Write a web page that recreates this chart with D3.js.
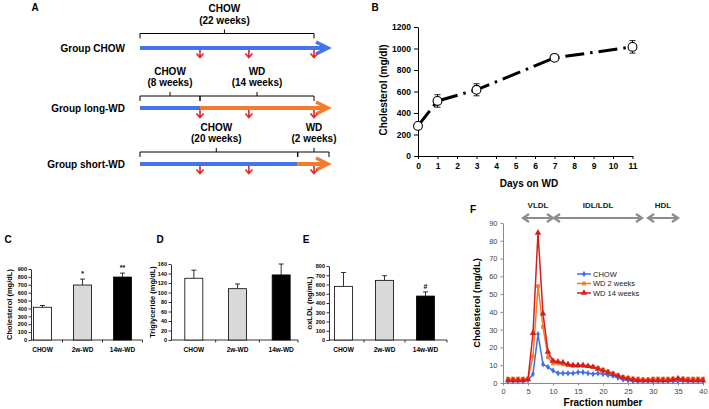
<!DOCTYPE html>
<html><head><meta charset="utf-8">
<script src="https://cdn.jsdelivr.net/npm/d3@7"></script>
<style>
body{margin:0;background:#fff}
svg{display:block}
text{font-family:"Liberation Sans",Arial,sans-serif}
</style>
</head><body>
<svg id="chart" width="709" height="409"></svg>
<script>
// ================= DATA =================
// Panel A: study design (weeks)
const groupNames = ["Group CHOW", "Group long-WD", "Group short-WD"];
const dietSegments = [
  [{diet: "CHOW", from: 0, to: 24}],
  [{diet: "CHOW", from: 0, to: 8}, {diet: "WD", from: 8, to: 24}],
  [{diet: "CHOW", from: 0, to: 20}, {diet: "WD", from: 20, to: 24}]
];
const bracketSegments = [
  [{l1: "CHOW", l2: "(22 weeks)", from: 0, to: 22}],
  [{l1: "CHOW", l2: "(8 weeks)", from: 0, to: 8}, {l1: "WD", l2: "(14 weeks)", from: 8, to: 22}],
  [{l1: "CHOW", l2: "(20 weeks)", from: 0, to: 20}, {l1: "WD", l2: "(2 weeks)", from: 20, to: 24}]
];
const sampleWeeks = [8, 14, 22];

// Panel B: cholesterol vs days on WD
const daysB = [0, 1, 3, 7, 11];
const cholB = [280, 512, 616, 913, 1015];
const cholBErr = [20, 58, 56, 15, 58];
const bYTicks = [0, 200, 400, 600, 800, 1000, 1200];
const bXTicks = [0, 1, 2, 3, 4, 5, 6, 7, 8, 9, 10, 11];

// Panels C, D, E: bars
const barCats = ["CHOW", "2w-WD", "14w-WD"];
const cholC = [415, 697, 798];
const cholCErr = [22, 75, 50];
const sigC = ["", "*", "**"];
const cTicks = [0, 100, 200, 300, 400, 500, 600, 700, 800, 900];
const tgD = [130, 108, 137];
const tgDErr = [17, 10, 23];
const sigD = ["", "", ""];
const dTicks = [0, 20, 40, 60, 80, 100, 120, 140, 160];
const oxE = [580, 645, 475];
const oxEErr = [150, 50, 45];
const sigE = ["", "", "#"];
const eTicks = [0, 100, 200, 300, 400, 500, 600, 700, 800];

// Panel F: FPLC profile
const fractions = [1,2,3,4,5,6,7,8,9,10,11,12,13,14,15,16,17,18,19,20,21,22,23,24,25,26,27,28,29,30,31,32,33,34,35,36,37,38,39,40];
const fChow = [1,1,1,1,1.5,5,27.5,10.5,9,7,5.5,5.5,5.5,5.5,6,6,5.5,5,5.5,5,4.5,4,3,2,1.5,1,1,1,1,1,1,1,1,1,1,1,1,1,1,1];
const fWd2 = [2.5,2.5,2.5,2.5,2.5,15,54.5,31.5,14.5,11,11,10.5,10,9.5,9.5,9.5,9.5,9,8.5,7.5,6.5,5.5,4.5,3.5,3,2.5,2.5,2,2,2.5,2.5,2.5,2.5,2.5,2.5,2.5,2.5,2.5,2.5,2.5];
const fWd14 = [1.5,1.5,1.5,1.5,2,28,84.5,39,17.5,12.5,12,11.5,10.5,10,10,10,9.5,9,8,7,6,5,4,3,2.5,2,1.5,1.5,1.5,1.5,1.5,1.5,1.5,2,2.5,2,1.5,1.5,1.5,1.5];
const fSeriesNames = ["CHOW", "WD 2 weeks", "WD 14 weeks"];
const fYTicks = [0,10,20,30,40,50,60,70,80,90];
const fXTicks = [0,5,10,15,20,25,30,35,40];
const regions = [{name: "VLDL", from: 4, to: 10}, {name: "IDL/LDL", from: 10.2, to: 27.8}, {name: "HDL", from: 29, to: 35}];

// ================= DRAWING =================
const svg = d3.select("#chart");
svg.append("rect").attr("width", 709).attr("height", 409).attr("fill", "#fff");

function letter(t, x, y) {
  svg.append("text").attr("x", x).attr("y", y).attr("text-anchor", "middle")
    .attr("font-size", 10).attr("font-weight", "bold").attr("fill", "#000").text(t);
}

// ---------- Panel A ----------
const blue = "#4474ec", orange = "#f47b2c", red = "#e52428";
letter("A", 35, 11);
const gA = svg.append("g");
const wx = d3.scaleLinear().domain([0, 8, 22, 24]).range([140, 200, 314, 329]);
const rowY = [48, 108, 164];
const bracketY = [33.5, 96, 152];
groupNames.forEach((name, i) => {
  const y = rowY[i];
  gA.append("text").attr("x", 125).attr("y", y + 3.5).attr("text-anchor", "end")
    .attr("font-size", 10).attr("font-weight", "bold").text(name);
  // brackets
  const yb = bracketY[i];
  bracketSegments[i].forEach(s => {
    const x1 = wx(s.from), x2 = wx(s.to), xm = wx((s.from + s.to) / 2);
    gA.append("path").attr("d", `M${x1},${yb + 5}V${yb}H${x2}V${yb + 5}M${xm},${yb}V${yb - 4}`)
      .attr("fill", "none").attr("stroke", "#000").attr("stroke-width", 1);
    gA.append("text").attr("x", xm).attr("y", yb - 21.5).attr("text-anchor", "middle")
      .attr("font-size", 10).attr("font-weight", "bold").text(s.l1);
    gA.append("text").attr("x", xm).attr("y", yb - 10).attr("text-anchor", "middle")
      .attr("font-size", 10).attr("font-weight", "bold").text(s.l2);
  });
  // diet arrow
  const segs = dietSegments[i];
  segs.forEach((s, k) => {
    const last = k === segs.length - 1;
    gA.append("line").attr("x1", wx(s.from)).attr("x2", last ? wx(s.to) - 3 : wx(s.to))
      .attr("y1", y).attr("y2", y).attr("stroke", s.diet === "CHOW" ? blue : orange)
      .attr("stroke-width", 4);
    if (last) {
      const xt = wx(s.to) - 1;
      gA.append("polyline").attr("points", `${xt - 12},${y - 6} ${xt},${y} ${xt - 12},${y + 6}`)
        .attr("fill", "none").attr("stroke", s.diet === "CHOW" ? blue : orange)
        .attr("stroke-width", 3.5).attr("stroke-linejoin", "miter");
    }
  });
  // sample arrows
  sampleWeeks.forEach(w => {
    const x = wx(w);
    gA.append("path").attr("d", `M${x},${y + 2}V${y + 9.5}M${x - 3.5},${y + 5.5}L${x},${y + 9.5}L${x + 3.5},${y + 5.5}`)
      .attr("fill", "none").attr("stroke", red).attr("stroke-width", 1.6);
  });
});

// ---------- Panel B ----------
letter("B", 375, 11);
const gB = svg.append("g");
const bx = d3.scaleLinear().domain([0, 11]).range([418, 632.5]);
const by = d3.scaleLinear().domain([0, 1200]).range([156, 27]);
const axBY = gB.append("g").attr("transform", "translate(418,0)")
  .call(d3.axisLeft(by).tickValues(bYTicks).tickFormat(d3.format("d")).tickSize(4).tickSizeOuter(0).tickPadding(3));
const axBX = gB.append("g").attr("transform", "translate(0,156)")
  .call(d3.axisBottom(bx).tickValues(bXTicks).tickFormat(d3.format("d")).tickSize(3).tickSizeOuter(0).tickPadding(4));
[axBY, axBX].forEach(a => {
  a.selectAll("text").attr("font-size", 8.5).attr("font-weight", "bold").attr("fill", "#000")
    .attr("font-family", '"Liberation Sans",Arial,sans-serif');
  a.selectAll("path,line").attr("stroke", "#000");
});
gB.append("text").attr("x", 529).attr("y", 186.5).attr("text-anchor", "middle")
  .attr("font-size", 10).attr("font-weight", "bold").text("Days on WD");
gB.append("text").attr("transform", "translate(386.5,90) rotate(-90)").attr("text-anchor", "middle")
  .attr("font-size", 10).attr("font-weight", "bold").text("Cholesterol (mg/dl)");
const bPts = daysB.map((d, i) => ({d, v: cholB[i], e: cholBErr[i]}));
gB.append("path").datum(bPts)
  .attr("d", d3.line().x(p => bx(p.d)).y(p => by(p.v)))
  .attr("fill", "none").attr("stroke", "#000").attr("stroke-width", 3)
  .attr("stroke-dasharray", "19,6,2.5,6");
bPts.forEach(p => {
  const x = bx(p.d);
  gB.append("path").attr("d", `M${x},${by(p.v - p.e)}V${by(p.v + p.e)}M${x - 3},${by(p.v + p.e)}H${x + 3}M${x - 3},${by(p.v - p.e)}H${x + 3}`)
    .attr("stroke", "#000").attr("stroke-width", 0.9).attr("fill", "none");
});
gB.selectAll("circle.m").data(bPts).join("circle").attr("class", "m")
  .attr("cx", p => bx(p.d)).attr("cy", p => by(p.v)).attr("r", 4.4)
  .attr("fill", "#fff").attr("stroke", "#000").attr("stroke-width", 1.1);

// ---------- Panels C, D, E ----------
const barFill = ["#ffffff", "#d9d9d9", "#000000"];
function barPanel(o) {
  const g = svg.append("g");
  letter(o.letter, o.letterX, 243);
  const x = d3.scaleBand().domain(barCats).range(o.band);
  const y = d3.scaleLinear().domain([0, o.ticks[o.ticks.length - 1]]).range([340, o.yTop]);
  const ay = g.append("g").attr("transform", `translate(${o.axisX},0)`)
    .call(d3.axisLeft(y).tickValues(o.ticks).tickFormat(d3.format("d")).tickSize(2.5).tickSizeOuter(0).tickPadding(1.5));
  ay.selectAll("text").attr("font-size", 5.5).attr("font-weight", "bold").attr("fill", "#000")
    .attr("font-family", '"Liberation Sans",Arial,sans-serif');
  ay.selectAll("path,line").attr("stroke", "#000").attr("stroke-width", 0.8);
  g.append("line").attr("x1", o.axisX).attr("x2", o.axisEnd).attr("y1", 340).attr("y2", 340)
    .attr("stroke", "#000").attr("stroke-width", 0.8);
  barCats.forEach((c, i) => {
    if (i > 0) g.append("line").attr("x1", x(c)).attr("x2", x(c)).attr("y1", 340).attr("y2", 342.5)
      .attr("stroke", "#000").attr("stroke-width", 0.8);
  });
  g.append("line").attr("x1", o.axisEnd).attr("x2", o.axisEnd).attr("y1", 340).attr("y2", 342.5)
    .attr("stroke", "#000").attr("stroke-width", 0.8);
  const bw = 18;
  barCats.forEach((c, i) => {
    const cx = x(c) + x.bandwidth() / 2;
    const v = o.values[i], e = o.errs[i];
    g.append("line").attr("x1", cx).attr("x2", cx).attr("y1", y(v)).attr("y2", y(v + e))
      .attr("stroke", "#000").attr("stroke-width", 0.8);
    g.append("line").attr("x1", cx - 2.5).attr("x2", cx + 2.5).attr("y1", y(v + e)).attr("y2", y(v + e))
      .attr("stroke", "#000").attr("stroke-width", 0.8);
    g.append("rect").attr("x", cx - bw / 2).attr("y", y(v)).attr("width", bw).attr("height", 340 - y(v))
      .attr("fill", barFill[i]).attr("stroke", "#000").attr("stroke-width", 0.8);
    g.append("text").attr("x", cx).attr("y", 351.5).attr("text-anchor", "middle")
      .attr("font-size", 6.5).attr("font-weight", "bold").text(c);
    if (o.sig[i]) g.append("text").attr("x", cx).attr("y", y(v + e) - 3).attr("text-anchor", "middle")
      .attr("font-size", 7).attr("font-weight", "bold").text(o.sig[i]);
  });
  g.append("text").attr("transform", `translate(${o.titleX},${(340 + o.yTop) / 2}) rotate(-90)`)
    .attr("text-anchor", "middle").attr("font-size", 7.5).attr("font-weight", "bold").text(o.title);
}
barPanel({letter: "C", letterX: 8, axisX: 31, axisEnd: 142.5, band: [22.5, 142.5], yTop: 269,
  ticks: cTicks, values: cholC, errs: cholCErr, sig: sigC, title: "Cholesterol (mg/dL)", titleX: 12});
barPanel({letter: "D", letterX: 160, axisX: 171, axisEnd: 298, band: [172, 303], yTop: 264,
  ticks: dTicks, values: tgD, errs: tgDErr, sig: sigD, title: "Triglyceride (mg/dL)", titleX: 155});
barPanel({letter: "E", letterX: 306, axisX: 329, axisEnd: 447, band: [323, 446], yTop: 266,
  ticks: eTicks, values: oxE, errs: oxEErr, sig: sigE, title: "oxLDL (ng/mL)", titleX: 312});

// ---------- Panel F ----------
letter("F", 473, 212.5);
const gF = svg.append("g");
const fx = d3.scaleLinear().domain([0, 40]).range([503, 703]);
const fy = d3.scaleLinear().domain([0, 90]).range([383, 223]);
const axFY = gF.append("g").attr("transform", "translate(503,0)")
  .call(d3.axisLeft(fy).tickValues(fYTicks).tickSize(2.5).tickSizeOuter(0).tickPadding(3));
const axFX = gF.append("g").attr("transform", "translate(0,383)")
  .call(d3.axisBottom(fx).tickValues(fXTicks).tickSize(2.5).tickSizeOuter(0).tickPadding(3));
[axFY, axFX].forEach(a => {
  a.selectAll("text").attr("font-size", 7.5).attr("fill", "#444")
    .attr("font-family", '"Liberation Sans",Arial,sans-serif');
  a.selectAll("path,line").attr("stroke", "#8a8a8a");
});
gF.append("text").attr("x", 603).attr("y", 405.5).attr("text-anchor", "middle")
  .attr("font-size", 10).attr("font-weight", "bold").text("Fraction number");
gF.append("text").attr("transform", "translate(480,303) rotate(-90)").attr("text-anchor", "middle")
  .attr("font-size", 9.5).attr("font-weight", "bold").text("Cholesterol (mg/dL)");
regions.forEach(r => {
  const x1 = fx(r.from), x2 = fx(r.to), yy = 218;
  gF.append("path").attr("d", `M${x1},${yy}H${x2}M${x1 + 6},${yy - 4}L${x1},${yy}L${x1 + 6},${yy + 4}M${x2 - 6},${yy - 4}L${x2},${yy}L${x2 - 6},${yy + 4}`)
    .attr("fill", "none").attr("stroke", "#8c8c8c").attr("stroke-width", 2.2);
  gF.append("text").attr("x", (x1 + x2) / 2).attr("y", 208).attr("text-anchor", "middle")
    .attr("font-size", 8).attr("font-weight", "bold").attr("fill", "#222").text(r.name);
});
const fCols = ["#3f6fe8", "#f47c2a", "#d71e1e"];
const fSyms = [d3.symbolDiamond, d3.symbolSquare, d3.symbolTriangle];
const fSizes = [12, 14, 18];
[fChow, fWd2, fWd14].forEach((vals, s) => {
  const pts = fractions.map((f, i) => [f, vals[i]]);
  gF.append("path").datum(pts).attr("d", d3.line().x(p => fx(p[0])).y(p => fy(p[1])))
    .attr("fill", "none").attr("stroke", fCols[s]).attr("stroke-width", 1.5);
  gF.selectAll(null).data(pts).join("path")
    .attr("transform", p => `translate(${fx(p[0])},${fy(p[1])})`)
    .attr("d", d3.symbol().type(fSyms[s]).size(fSizes[s])).attr("fill", fCols[s]);
});
fSeriesNames.forEach((n, s) => {
  const ly = [274, 283.5, 293][s];
  gF.append("line").attr("x1", 577).attr("x2", 591).attr("y1", ly).attr("y2", ly)
    .attr("stroke", fCols[s]).attr("stroke-width", 1.5);
  gF.append("path").attr("transform", `translate(584,${ly})`)
    .attr("d", d3.symbol().type(fSyms[s]).size(fSizes[s])).attr("fill", fCols[s]);
  gF.append("text").attr("x", 593).attr("y", ly + 2.7).attr("font-size", 7.5).attr("fill", "#222").text(n);
});
</script>
</body></html>
